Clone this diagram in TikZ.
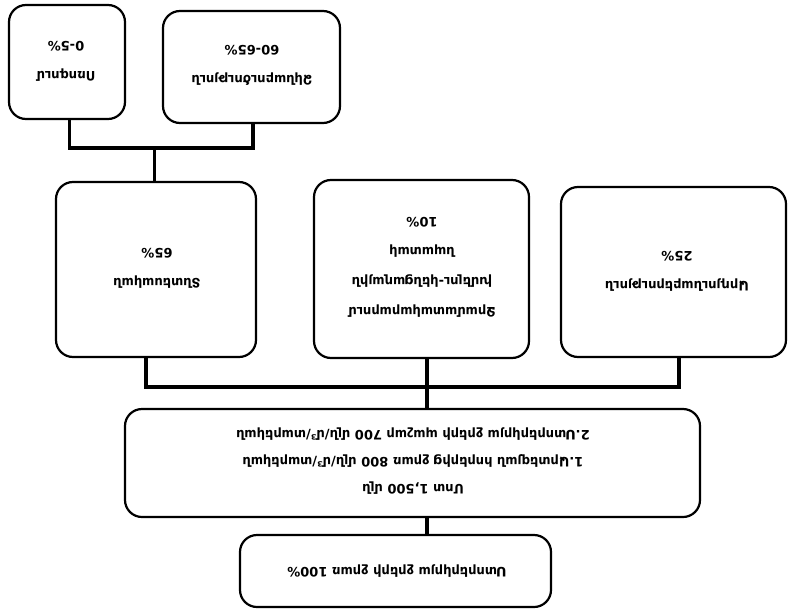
\documentclass[tikz,border=0pt]{standalone}
\usepackage{fontspec}
\setmainfont{DejaVu Sans}
\usetikzlibrary{calc}
\begin{document}
\begin{tikzpicture}[x=1pt,y=-1pt,
  box/.style={draw, line width=2.2pt, rounded corners=17pt, inner sep=0pt},
  conn/.style={line width=3.6pt},
  txt/.style={rotate=180, align=center, inner sep=0pt, font=\bfseries\fontsize{13}{30}\selectfont},
  txtF/.style={rotate=180, align=center, inner sep=0pt, font=\bfseries\fontsize{13}{27}\selectfont}]
\useasboundingbox (0,0) rectangle (789,610);
% boxes
\node[box, minimum width=116pt, minimum height=114pt] (A) at (67,62) {};
\node[box, minimum width=177pt, minimum height=112pt] (B) at (251.5,67) {};
\node[box, minimum width=200pt, minimum height=175pt] (C) at (156,269.5) {};
\node[box, minimum width=215pt, minimum height=178pt] (D) at (421.5,269) {};
\node[box, minimum width=225pt, minimum height=170pt] (E) at (673.5,272) {};
\node[box, minimum width=575pt, minimum height=108pt] (F) at (412.5,463) {};
\node[box, minimum width=311pt, minimum height=72pt] (G) at (395.5,571) {};
% texts (the scan is turned upside down)
\node[txt] (tA) at (66,61) {Ոռոգում\\0-5\%};
\node[txt] (tB) at (252,65) {Ձկնաբուծություն\\60-65\%};
\node[txt] (tC) at (157,268) {Տնտեսական\\65\%};
\node[txt] (tD) at (422,267) {Ջրամատակարարում\\խմելու-կենցաղային\\նպատակ\\10\%};
\node[txt] (tE) at (677,271) {Արդյունաբերություն\\25\%};
\node[txtF] (tF) at (413,461) {Մոտ 1,500 մլն\\1.Արտեզյան հորերից ջրառ 800 մլն/մ³/տարեկան\\2.Ստորերկրյա ջրերի պաշար 700 մլն/մ³/տարեկան};
\node[txt] (tG) at (397,571) {Ստորերկրյա ջրերի ջրառ 100\%};
% connectors
\coordinate (jab) at (154.5,148);
\coordinate (jcde) at (427,387);
\draw[conn] ([xshift=2.5pt]A.south) |- (jab) -| ([xshift=1.5pt]B.south);
\draw[conn] (jab) -- (jab |- C.north);
\draw[conn] ([xshift=-10pt]C.south) |- (jcde) -| ([xshift=5.5pt]E.south);
\draw[conn] (D.south -| jcde) -- (jcde);
\draw[conn] (jcde) -- (jcde |- F.north);
\draw[conn] (F.south -| jcde) -- (G.north -| jcde);
\end{tikzpicture}
\end{document}
